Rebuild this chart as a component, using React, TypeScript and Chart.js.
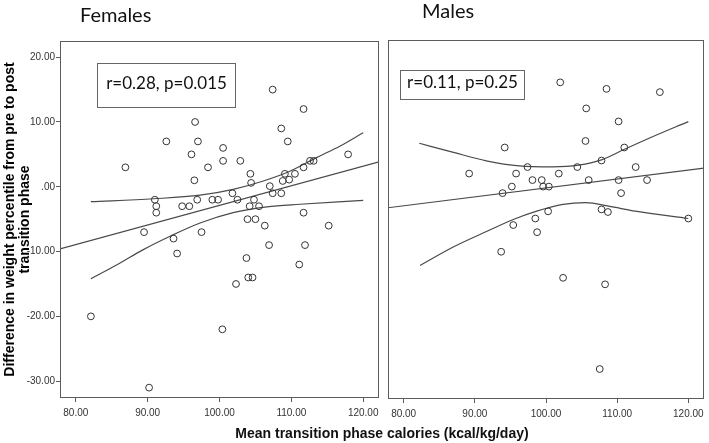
import React, { useEffect, useRef } from 'react';
import { Chart, registerables } from 'chart.js';

Chart.register(...registerables);

const AXIS_FONT = '"Liberation Sans", Arial, sans-serif';
const NOTE_FONT = 'Lato, "Noto Sans", sans-serif';

// ---- axes ----
const xTickValues = [80, 90, 100, 110, 120];
const xTickLabels = ['80.00', '90.00', '100.00', '110.00', '120.00'];
const yTickValues = [-30, -20, -10, 0, 10, 20];
const yTickLabels = ['-30.00', '-20.00', '-10.00', '.00', '10.00', '20.00'];
const xRange = [77.8, 122.2];
const yRange = [-32.6, 22.5];

const panelTitles = ['Females', 'Males'];
const xAxisTitle = 'Mean transition phase calories (kcal/kg/day)';
const yAxisTitle = ['Difference in weight percentile from pre to post', 'transition phase'];

// ---- Females ----
const femaleX = [
  86.9, 92.6, 96.6, 97.0, 96.1, 96.5, 98.4, 100.5, 100.5, 102.9,
  107.4, 111.7, 108.6, 109.5, 117.9, 112.6, 113.1, 111.7, 110.5, 109.1,
  108.8, 109.7, 104.3, 104.4, 107.0, 107.4, 108.6, 101.8, 102.5, 91.0,
  91.2, 91.2, 94.8, 95.8, 96.9, 99.0, 99.8, 104.2, 104.8, 105.5,
  103.9, 105.0, 111.7, 106.3, 115.2, 89.5, 97.5, 93.6, 94.1, 106.9,
  111.9, 103.75, 111.1, 104.0, 104.6, 102.3, 82.1, 100.4, 90.2,
];
const femaleY = [
  3, 7, 10, 7, 5, 1, 3, 6, 4, 4,
  15, 12, 9, 7, 5, 4, 4, 3, 2, 2,
  0.9, 1.1, 2, 0.6, 0.1, -1, -1, -1, -2, -2,
  -3, -4, -3, -3, -2, -2, -2, -3, -2, -3,
  -5, -5, -4, -6, -6, -7, -7, -8, -10.3, -9,
  -9, -11, -12, -14, -14, -15, -20, -22, -31,
];
const femaleFitX = [77.8, 122.2];
const femaleFitY = [-9.6, 3.85];
const femaleUpperX = [82.1, 90.8, 97.3, 101.9, 106.1, 109.8, 113.5, 116.8, 120.0];
const femaleUpperY = [-2.3, -1.85, -1.3, -0.4, 0.9, 2.4, 4.5, 6.3, 8.35];
const femaleLowerX = [82.1, 85.8, 89.4, 93.2, 97.3, 101.9, 106.6, 111.2, 120.0];
const femaleLowerY = [-14.2, -12.0, -9.7, -7.6, -5.6, -4.0, -3.1, -2.7, -2.1];
const femaleNote = 'r=0.28, p=0.015';
const femaleNoteX = [82.9, 102.1];
const femaleNoteY = [12.3, 19.1];

// ---- Males ----
const maleX = [
  102.0, 108.5, 116.0, 105.65, 110.2, 105.55, 111.0, 94.2, 89.2, 97.4,
  95.8, 98.1, 99.4, 99.6, 100.4, 101.8, 104.4, 107.8, 106.0, 112.6,
  110.2, 114.2, 110.55, 95.2, 93.9, 100.3, 107.8, 108.7, 120.0, 98.5,
  95.4, 98.75, 93.7, 102.4, 108.3, 107.55,
];
const maleY = [
  16, 15, 14.5, 12, 10, 7, 6, 6, 2, 3,
  2, 1, 1, 0, 0, 2, 3, 4, 1, 3,
  1, 1, -1, 0, -1, -3.8, -3.5, -3.9, -4.9, -4.9,
  -5.9, -7, -10, -14, -15, -28,
];
const maleFitX = [77.8, 122.2];
const maleFitY = [-3.25, 2.83];
const maleUpperX = [82.2, 87.0, 91.6, 96.25, 100.9, 104.6, 107.8, 111.1, 114.8, 120.0];
const maleUpperY = [6.65, 5.25, 3.96, 3.18, 3.03, 3.29, 4.11, 5.76, 7.57, 9.98];
const maleLowerX = [82.3, 87.1, 91.7, 95.4, 98.7, 102.4, 105.6, 108.8, 112.55, 120.0];
const maleLowerY = [-12.1, -9.2, -6.86, -5.05, -3.77, -2.74, -2.47, -3.0, -3.77, -4.9];
const maleNote = 'r=0.11, p=0.25';
const maleNoteX = [79.55, 96.95];
const maleNoteY = [13.4, 17.9];

const LINE_COLOR = '#4a4a4a';
const FRAME_COLOR = '#5c5c5c';

const toPts = (xs: number[], ys: number[]) => xs.map((x, i) => ({ x, y: ys[i] }));

const frameNotePlugin = {
  id: 'frameNote',
  afterDatasetsDraw(chart: any, _args: any, opts: any) {
    const { ctx, chartArea: a, scales } = chart;
    ctx.save();
    ctx.strokeStyle = FRAME_COLOR;
    ctx.lineWidth = 1;
    const l = Math.round(a.left) + 0.5;
    const t = Math.round(a.top) + 0.5;
    const r = Math.round(a.right) - 0.5;
    const b = Math.round(a.bottom) - 0.5;
    ctx.strokeRect(l, t, r - l, b - t);
    if (opts && opts.text) {
      const x0 = Math.round(scales.x.getPixelForValue(opts.boxX[0])) + 0.5;
      const x1 = Math.round(scales.x.getPixelForValue(opts.boxX[1])) + 0.5;
      const y0 = Math.round(scales.y.getPixelForValue(opts.boxY[1])) + 0.5;
      const y1 = Math.round(scales.y.getPixelForValue(opts.boxY[0])) + 0.5;
      ctx.fillStyle = '#ffffff';
      ctx.fillRect(x0, y0, x1 - x0, y1 - y0);
      ctx.strokeStyle = '#666666';
      ctx.strokeRect(x0, y0, x1 - x0, y1 - y0);
      ctx.fillStyle = '#111111';
      ctx.font = `17px ${NOTE_FONT}`;
      ctx.textAlign = 'center';
      ctx.textBaseline = 'middle';
      ctx.fillText(opts.text, (x0 + x1) / 2, (y0 + y1) / 2 - 2);
    }
    ctx.restore();
  },
};

type PanelCfg = {
  xs: number[]; ys: number[];
  fitX: number[]; fitY: number[];
  upX: number[]; upY: number[];
  loX: number[]; loY: number[];
  note: string; noteX: number[]; noteY: number[];
  showY: boolean;
  padding: { top: number; right: number; bottom: number; left: number };
};

const labelFrom = (values: number[], labels: string[]) => (v: any) => {
  const i = values.indexOf(Number(v));
  return i >= 0 ? labels[i] : '';
};

function buildConfig(p: PanelCfg): any {
  const lineBase = {
    type: 'line',
    borderColor: LINE_COLOR,
    borderWidth: 1.2,
    pointRadius: 0,
    fill: false,
    showLine: true,
  };
  return {
    type: 'scatter',
    data: {
      datasets: [
        { ...lineBase, data: toPts(p.fitX, p.fitY), order: 2 },
        { ...lineBase, data: toPts(p.upX, p.upY), cubicInterpolationMode: 'monotone', order: 2 },
        { ...lineBase, data: toPts(p.loX, p.loY), cubicInterpolationMode: 'monotone', order: 2 },
        {
          type: 'scatter',
          data: toPts(p.xs, p.ys),
          pointRadius: 3.4,
          pointBorderColor: '#333333',
          pointBackgroundColor: 'rgba(0,0,0,0)',
          pointBorderWidth: 1,
          order: 1,
        },
      ],
    },
    options: {
      animation: false,
      responsive: true,
      maintainAspectRatio: false,
      events: [],
      layout: { padding: p.padding },
      plugins: {
        legend: { display: false },
        tooltip: { enabled: false },
        title: { display: false },
        frameNote: { text: p.note, boxX: p.noteX, boxY: p.noteY },
      },
      scales: {
        x: {
          type: 'linear',
          min: xRange[0],
          max: xRange[1],
          afterBuildTicks: (s: any) => { s.ticks = xTickValues.map((v) => ({ value: v })); },
          afterFit: (s: any) => { s.height = 22; },
          ticks: {
            callback: labelFrom(xTickValues, xTickLabels),
            font: { family: AXIS_FONT, size: 10 },
            color: '#333333',
            padding: 5,
            maxRotation: 0,
            autoSkip: false,
          },
          grid: { drawOnChartArea: false, drawTicks: true, tickLength: 4, color: FRAME_COLOR },
          border: { display: false },
        },
        y: {
          type: 'linear',
          display: p.showY,
          min: yRange[0],
          max: yRange[1],
          afterBuildTicks: (s: any) => { s.ticks = yTickValues.map((v) => ({ value: v })); },
          afterFit: (s: any) => { s.width = p.showY ? 60 : 0; },
          ticks: {
            callback: labelFrom(yTickValues, yTickLabels),
            font: { family: AXIS_FONT, size: 10 },
            color: '#333333',
            padding: 1,
            autoSkip: false,
          },
          grid: { drawOnChartArea: false, drawTicks: true, tickLength: 4, color: FRAME_COLOR },
          border: { display: false },
          title: {
            display: true,
            text: yAxisTitle,
            font: { family: AXIS_FONT, size: 14, weight: 'bold', lineHeight: 1.05 },
            color: '#000000',
            padding: { top: 3, bottom: 0 },
          },
        },
      },
    },
    plugins: [frameNotePlugin],
  };
}

function Panel({ cfg, left, width }: { cfg: PanelCfg; left: number; width: number }) {
  const ref = useRef<HTMLCanvasElement | null>(null);
  useEffect(() => {
    if (!ref.current) return;
    const chart = new Chart(ref.current, buildConfig(cfg));
    return () => chart.destroy();
  }, []);
  return (
    <div style={{ position: 'absolute', left, top: 0, width, height: 443 }}>
      <canvas ref={ref} />
    </div>
  );
}

const femaleCfg: PanelCfg = {
  xs: femaleX, ys: femaleY,
  fitX: femaleFitX, fitY: femaleFitY,
  upX: femaleUpperX, upY: femaleUpperY,
  loX: femaleLowerX, loY: femaleLowerY,
  note: femaleNote, noteX: femaleNoteX, noteY: femaleNoteY,
  showY: true,
  padding: { top: 41, right: 5, bottom: 23, left: 0 },
};

const maleCfg: PanelCfg = {
  xs: maleX, ys: maleY,
  fitX: maleFitX, fitY: maleFitY,
  upX: maleUpperX, upY: maleUpperY,
  loX: maleLowerX, loY: maleLowerY,
  note: maleNote, noteX: maleNoteX, noteY: maleNoteY,
  showY: false,
  padding: { top: 40, right: 3, bottom: 22, left: 4 },
};

export default function App() {
  return (
    <div style={{ position: 'absolute', left: 0, top: 0, width: 709, height: 443, background: '#ffffff', overflow: 'hidden' }}>
      <Panel cfg={femaleCfg} left={0} width={384} />
      <Panel cfg={maleCfg} left={383} width={326} />
      <div style={{ position: 'absolute', left: 80, top: 2, font: `20px ${NOTE_FONT}`, lineHeight: '24px', color: '#111' }}>
        {panelTitles[0]}
      </div>
      <div style={{ position: 'absolute', left: 422, top: -2, font: `20px ${NOTE_FONT}`, lineHeight: '24px', color: '#111' }}>
        {panelTitles[1]}
      </div>
      <div style={{ position: 'absolute', left: 0, width: 764, top: 424, textAlign: 'center', font: `bold 14px ${AXIS_FONT}`, lineHeight: '18px', color: '#111' }}>
        {xAxisTitle}
      </div>
    </div>
  );
}
